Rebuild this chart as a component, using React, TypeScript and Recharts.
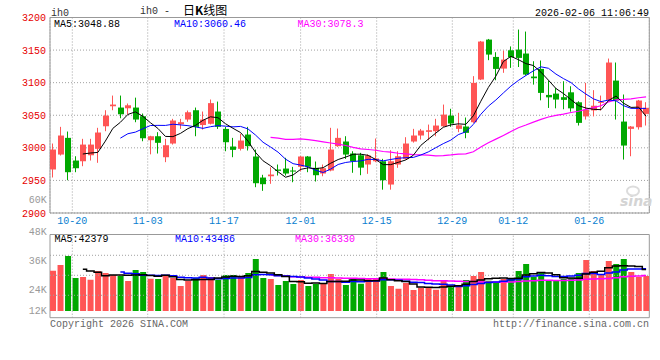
import {
  Bar,
  CartesianGrid,
  Cell,
  ComposedChart,
  Line,
  ReferenceArea,
  ReferenceLine,
  XAxis,
  YAxis,
} from "recharts";

const RED = "#ff5555";
const GREEN = "#00a800";
const GRID = "#a0a0a0";
const FRAME = "#999999";
const MONO = "'Liberation Mono', 'DejaVu Sans Mono', monospace";

// trading days shown, oldest first
const dates = [
  "10-16", "10-17", "10-20", "10-21", "10-22", "10-23", "10-24", "10-27", "10-28", "10-29", "10-30", "10-31",
  "11-03", "11-04", "11-05", "11-06", "11-07", "11-10", "11-11", "11-12", "11-13", "11-14",
  "11-17", "11-18", "11-19", "11-20", "11-21", "11-24", "11-25", "11-26", "11-27", "11-28",
  "12-01", "12-02", "12-03", "12-04", "12-05", "12-08", "12-09", "12-10", "12-11", "12-12",
  "12-15", "12-16", "12-17", "12-18", "12-19", "12-22", "12-23", "12-24", "12-25", "12-26",
  "12-29", "12-30", "12-31", "01-05", "01-06", "01-07", "01-08", "01-09",
  "01-12", "01-13", "01-14", "01-15", "01-16", "01-19", "01-20", "01-21", "01-22", "01-23",
  "01-26", "01-27", "01-28", "01-29", "01-30", "02-02", "02-03", "02-04", "02-05", "02-06",
];

const opens = [
  2966.8, 2989.7, 3015.3, 2980.5, 2979.4, 2988.6, 2998.5, 3033.1, 3063.8, 3061.8,
  3060.7, 3061.8, 3048.5, 3011.7, 3017.8, 2985.6, 3006.6, 3036.2, 3043.4, 3057.7,
  3035.0, 3036.9, 3055.7, 3029.0, 3002.0, 2998.5, 3020.4, 2986.7, 2954.4, 2956.4,
  2966.7, 2968.2, 2965.2, 2970.9, 2986.7, 2969.3, 2960.6, 2965.2, 3002.5, 3009.7,
  2991.3, 2988.6, 2974.4, 2979.4, 2979.4, 2943.7, 2974.4, 2983.1, 3009.7, 3018.9,
  3024.5, 3025.5, 3033.1, 3049.5, 3029.1, 3032.7, 3039.3, 3104.8, 3166.1, 3139.5,
  3121.6, 3149.7, 3150.8, 3144.7, 3109.4, 3121.1, 3081.2, 3083.2, 3077.7, 3085.2,
  3069.9, 3048.2, 3057.4, 3069.0, 3073.6, 3103.2, 3040.3, 3029.1, 3031.6, 3052.1,
];

const highs = [
  3006.6, 3032.2, 3025.0, 2987.1, 3013.8, 3013.8, 3030.7, 3057.7, 3080.2, 3080.2,
  3068.0, 3077.0, 3052.6, 3018.5, 3024.0, 3013.8, 3044.5, 3044.5, 3057.2, 3061.8,
  3055.7, 3074.1, 3071.0, 3032.2, 3015.3, 3021.5, 3032.2, 2997.4, 2958.6, 2970.2,
  2974.4, 2984.7, 2970.8, 2987.5, 2987.5, 2979.0, 2974.4, 3030.7, 3029.6, 3017.8,
  2994.8, 2992.3, 2990.2, 3014.3, 2983.1, 2996.3, 2994.8, 3016.3, 3029.1, 3029.0,
  3035.7, 3044.5, 3066.4, 3059.9, 3053.7, 3046.5, 3110.0, 3164.0, 3167.1, 3146.7,
  3149.2, 3155.6, 3181.5, 3178.4, 3132.9, 3134.0, 3103.1, 3092.0, 3102.2, 3094.5,
  3071.5, 3099.7, 3088.5, 3080.2, 3137.0, 3130.9, 3081.8, 3033.5, 3073.5, 3070.0,
];

const lows = [
  2954.5, 2988.2, 2950.3, 2962.6, 2971.8, 2980.5, 2977.0, 3025.5, 3057.7, 3045.4,
  3051.0, 3039.3, 3010.1, 2990.0, 2991.3, 2978.0, 3005.0, 3029.0, 3040.0, 3017.8,
  3028.0, 3035.9, 3029.0, 2994.8, 2985.6, 2995.9, 2995.9, 2939.6, 2934.0, 2944.8,
  2957.5, 2957.5, 2947.2, 2964.0, 2962.6, 2948.3, 2956.4, 2964.0, 3001.5, 2983.0,
  2961.7, 2958.0, 2960.1, 2978.0, 2935.8, 2935.8, 2969.3, 2982.0, 3008.0, 3012.7,
  3011.7, 3017.8, 3032.2, 3032.2, 3024.0, 3014.7, 3038.3, 3104.0, 3134.5, 3103.7,
  3115.1, 3122.7, 3124.0, 3111.0, 3097.0, 3072.9, 3061.2, 3060.6, 3059.2, 3055.5,
  3034.2, 3043.4, 3048.2, 3057.4, 3071.5, 3043.4, 2982.0, 2987.1, 3028.0, 3034.2,
];

const closes = [
  2997.4, 3018.9, 2962.6, 2968.7, 3005.0, 3005.0, 3023.5, 3049.5, 3066.4, 3051.5,
  3065.3, 3043.4, 3014.7, 3017.8, 3007.7, 3004.0, 3041.9, 3039.3, 3054.6, 3032.2,
  3043.4, 3068.6, 3032.2, 3008.6, 2996.9, 3011.2, 3002.5, 2945.7, 2944.2, 2959.0,
  2964.7, 2960.6, 2963.6, 2986.7, 2970.9, 2958.0, 2968.7, 2997.4, 3015.3, 2989.7,
  2979.4, 2969.6, 2988.2, 2983.6, 2950.3, 2979.4, 2987.1, 3006.6, 3018.9, 3026.5,
  3027.0, 3034.2, 3051.0, 3037.3, 3034.6, 3023.0, 3099.7, 3163.1, 3143.1, 3121.1,
  3135.4, 3139.0, 3138.0, 3112.5, 3106.8, 3084.3, 3077.5, 3074.1, 3073.6, 3060.6,
  3038.3, 3058.5, 3064.6, 3070.6, 3130.9, 3072.6, 3003.5, 3032.7, 3072.6, 3061.4,
];

const volumes = [
  41300, 47200, 56400, 33800, 34900, 32100, 41000, 39000, 36900, 35900,
  30800, 42000, 40000, 33100, 32800, 35900, 33800, 25600, 30800, 33800,
  36900, 34900, 32100, 36900, 36900, 35900, 39000, 53300, 33800, 32800,
  26700, 30800, 27700, 31800, 25600, 27700, 27700, 37900, 32800, 26700,
  33800, 28000, 33100, 33800, 40000, 25600, 22900, 28700, 21500, 23900,
  24300, 21800, 31800, 24900, 26700, 31800, 35900, 40000, 31100, 28700,
  32800, 33800, 41000, 48200, 34900, 40000, 30800, 31800, 32800, 33800,
  39000, 52300, 41000, 37900, 51300, 48200, 53300, 40000, 34900, 35900,
];

// date labels and where their grid lines sit, in candle slots
const tickLabels = ["10-20", "11-03", "11-17", "12-01", "12-15", "12-29", "01-12", "01-26"];
const tickSlots = [2.6, 12.64, 22.8, 33.0, 43.13, 53.2, 61.32, 71.44];

const priceTicks = [2900, 2950, 3000, 3050, 3100, 3150, 3200];
const volGrid = [16100, 36600, 57100];
const volLabels = ["60K", "48K", "36K", "24K", "12K"];

const X_DOMAIN: [number, number] = [-0.37, 79.43];
const PRICE_DOMAIN: [number, number] = [2900, 3200];
const VOL_DOMAIN: [number, number] = [-6870, 78410];

function movingAverage(values: number[], n: number): (number | null)[] {
  return values.map((_, i) => {
    if (i < n - 1) return null;
    let sum = 0;
    for (let k = i - n + 1; k <= i; k++) sum += values[k];
    return sum / n;
  });
}

const ma5 = movingAverage(closes, 5);
const ma10 = movingAverage(closes, 10);
const ma30 = movingAverage(closes, 30);
const vma5 = movingAverage(volumes, 5);
const vma10 = movingAverage(volumes, 10);
const vma30 = movingAverage(volumes, 30);

const rows = closes.map((close, i) => ({
  i,
  date: dates[i],
  open: opens[i],
  high: highs[i],
  low: lows[i],
  close,
  ma5: ma5[i],
  ma10: ma10[i],
  ma30: ma30[i],
  vol: volumes[i],
  vma5: vma5[i],
  vma10: vma10[i],
  vma30: vma30[i],
}));

function Candle(props: any) {
  const { x, y, width, height, payload } = props;
  if (x == null || y == null || !payload) return null;
  const { open, close, high, low } = payload;
  const top = Math.min(y, y + height);
  const h = Math.abs(height);
  const span = high - low || 1;
  const toY = (v: number) => top + ((high - v) / span) * h;
  const color = close >= open ? RED : GREEN;
  const left = Math.round(x + width / 2 - 3);
  const bodyTop = toY(Math.max(open, close));
  const bodyBottom = toY(Math.min(open, close));
  return (
    <g>
      <line x1={left + 2.5} x2={left + 2.5} y1={top} y2={top + h} stroke={color} strokeWidth={1} />
      <rect x={left} y={bodyTop} width={6} height={Math.max(1, bodyBottom - bodyTop)} fill={color} />
    </g>
  );
}

function PriceChart() {
  return (
    <ComposedChart
      width={660}
      height={230}
      data={rows}
      margin={{ top: 17.5, right: 10.7, bottom: 0, left: 0 }}
    >
      <CartesianGrid stroke={GRID} strokeDasharray="1 2" />
      <XAxis
        dataKey="i"
        type="number"
        domain={X_DOMAIN}
        allowDataOverflow
        ticks={tickSlots}
        interval={0}
        tickFormatter={(v: number) => tickLabels[tickSlots.indexOf(v)] ?? ""}
        tickLine={false}
        axisLine={false}
        tickSize={0}
        tickMargin={4}
        height={17}
        tick={{ fill: "#0a80d0", fontSize: 10, fontFamily: MONO }}
      />
      <YAxis
        type="number"
        domain={PRICE_DOMAIN}
        allowDataOverflow
        ticks={priceTicks}
        interval={0}
        width={50}
        tickLine={false}
        axisLine={false}
        tickSize={0}
        tickMargin={4}
        tick={{ fill: "#e60000", fontSize: 10, fontFamily: MONO }}
      />
      <ReferenceArea
        x1={X_DOMAIN[0]}
        x2={X_DOMAIN[1]}
        y1={PRICE_DOMAIN[0]}
        y2={PRICE_DOMAIN[1]}
        fill="none"
        stroke={FRAME}
      />
      <Bar
        dataKey={(d: any) => [d.low, d.high]}
        barSize={6}
        shape={(p: any) => <Candle {...p} />}
        isAnimationActive={false}
      />
      <Line dataKey="ma30" stroke="#ff00ff" strokeWidth={1.2} dot={false} isAnimationActive={false} />
      <Line dataKey="ma10" stroke="#0000ff" strokeWidth={1} dot={false} isAnimationActive={false} />
      <Line dataKey="ma5" stroke="#000000" strokeWidth={1} dot={false} isAnimationActive={false} />
    </ComposedChart>
  );
}

function VolumeChart() {
  return (
    <ComposedChart
      width={660}
      height={140}
      data={rows}
      margin={{ top: 14.5, right: 10.7, bottom: 42.3, left: 50 }}
    >
      <XAxis dataKey="i" type="number" domain={X_DOMAIN} allowDataOverflow hide />
      <YAxis type="number" domain={VOL_DOMAIN} allowDataOverflow hide />
      {volGrid.map((v) => (
        <ReferenceLine key={`h${v}`} y={v} stroke={GRID} strokeDasharray="1 2" />
      ))}
      {tickSlots.map((s) => (
        <ReferenceLine key={`v${s}`} x={s} stroke={GRID} strokeDasharray="1 2" />
      ))}
      <ReferenceArea
        x1={X_DOMAIN[0]}
        x2={X_DOMAIN[1]}
        y1={VOL_DOMAIN[0]}
        y2={VOL_DOMAIN[1]}
        fill="none"
        stroke={FRAME}
      />
      <Bar dataKey="vol" barSize={6} isAnimationActive={false}>
        {rows.map((r) => (
          <Cell key={r.i} fill={r.close >= r.open ? RED : GREEN} />
        ))}
      </Bar>
      <Line type="step" dataKey="vma30" stroke="#ff00ff" strokeWidth={1.5} dot={false} isAnimationActive={false} />
      <Line type="step" dataKey="vma10" stroke="#0000ff" strokeWidth={1.5} dot={false} isAnimationActive={false} />
      <Line type="step" dataKey="vma5" stroke="#000000" strokeWidth={1.5} dot={false} isAnimationActive={false} />
    </ComposedChart>
  );
}

function Labels() {
  const mono = { fontFamily: MONO, fontSize: 10 };
  const volY = [203.3, 234.6, 264, 293, 314];
  return (
    <svg
      width={660}
      height={360}
      style={{ position: "absolute", left: 0, top: 0, pointerEvents: "none" }}
    >
      <text x={51} y={16.3} fill="#333" {...mono}>ih0</text>
      <text x={140} y={13.8} fill="#333" {...mono}>ih0 -</text>
      <text x={183} y={14.8} fill="#000" fontSize={12} fontFamily="'Noto Sans CJK SC', sans-serif">
        日<tspan fontWeight="bold">K</tspan>线图
      </text>
      <text x={649} y={15.8} textAnchor="end" fill="#000" {...mono}>2026-02-06 11:06:49</text>

      <text x={54} y={27.3} fill="#000" {...mono}>MA5:3048.88</text>
      <text x={174} y={27.3} fill="#0000ff" {...mono}>MA10:3060.46</text>
      <text x={297.5} y={27.3} fill="#ff00ff" {...mono}>MA30:3078.3</text>

      <text x={54.5} y={242} fill="#000" {...mono}>MA5:42379</text>
      <text x={175} y={242} fill="#0000ff" {...mono}>MA10:43486</text>
      <text x={295} y={242} fill="#ff00ff" {...mono}>MA30:36330</text>

      {volLabels.map((t, k) => (
        <text key={t} x={46.7} y={volY[k]} textAnchor="end" fill="#999" {...mono}>{t}</text>
      ))}

      <text x={620} y={206} fill="#d4d4d4" fontSize={14} fontStyle="italic" fontWeight="bold" fontFamily="'DejaVu Sans', sans-serif">sina</text>
      <ellipse cx={633} cy={191} rx={6} ry={4.5} fill="none" stroke="#dcdcdc" strokeWidth={2} />

      <text x={50} y={326.8} fill="#666" {...mono}>Copyright 2026 SINA.COM</text>
      <text x={649} y={326.8} textAnchor="end" fill="#666" {...mono}>http://finance.sina.com.cn</text>
    </svg>
  );
}

export default function App() {
  return (
    <div
      style={{
        position: "absolute",
        left: 0,
        top: 0,
        width: 660,
        height: 360,
        background: "#ffffff",
        overflow: "hidden",
      }}
    >
      <div style={{ position: "absolute", left: 0, top: 0 }}>
        <PriceChart />
      </div>
      <div style={{ position: "absolute", left: 0, top: 220 }}>
        <VolumeChart />
      </div>
      <Labels />
    </div>
  );
}
